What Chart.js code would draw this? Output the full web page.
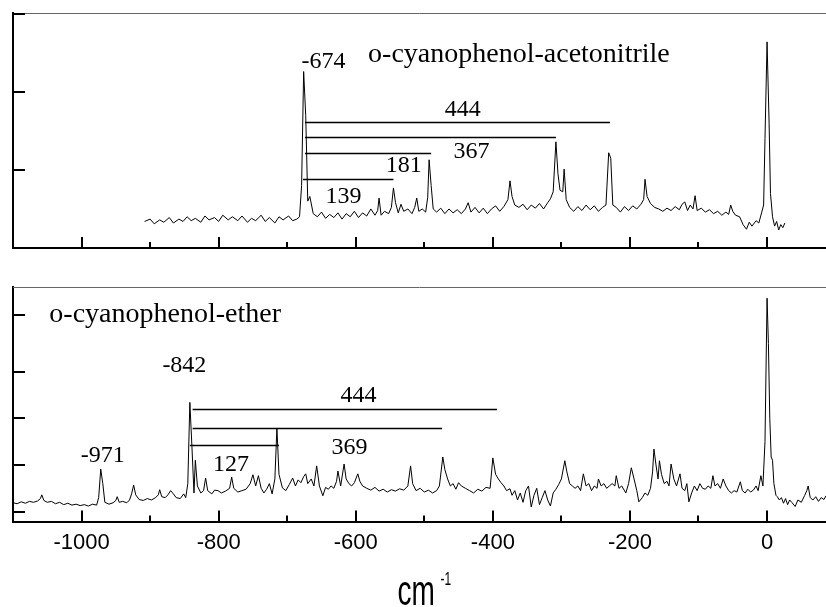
<!DOCTYPE html>
<html>
<head>
<meta charset="utf-8">
<script src="https://cdn.jsdelivr.net/npm/chart.js@4.4.1/dist/chart.umd.min.js"></script>
<style>
html, body { margin: 0; padding: 0; background: #fff; }
#top { position: absolute; left: 0; top: 0; width: 826px; height: 260px; }
#bottom { position: absolute; left: 0; top: 260px; width: 826px; height: 347px; }
</style>
</head>
<body>
<div id="top"><canvas id="topChart"></canvas></div>
<div id="bottom"><canvas id="bottomChart"></canvas></div>
<script>
// wavenumber shift (cm-1) and intensity, o-cyanophenol-acetonitrile
const accX = [-908,-900,-894,-886,-880,-872,-866,-858,-852,-846,
  -840,-834,-826,-820,-814,-806,-800,-794,-786,-780,
  -772,-766,-758,-752,-746,-738,-732,-726,-718,-712,
  -706,-698,-692,-686,-682,-679,-676,-673,-670,-667,
  -662,-656,-650,-644,-638,-632,-626,-620,-614,-608,
  -602,-596,-590,-584,-578,-572,-568,-566,-563,-558,
  -552,-548,-545,-542,-538,-534,-530,-524,-518,-514,
  -511,-508,-503,-498,-495,-493,-490,-487,-482,-476,
  -470,-464,-458,-452,-446,-440,-436,-432,-426,-420,
  -414,-408,-402,-396,-390,-384,-378,-375,-372,-368,
  -362,-356,-350,-344,-338,-332,-326,-320,-316,-312,
  -308,-305,-302,-298,-296,-293,-288,-282,-276,-270,
  -264,-258,-252,-246,-240,-235,-231,-228,-225,-220,
  -214,-208,-202,-196,-190,-184,-180,-178,-175,-170,
  -164,-158,-152,-146,-140,-134,-128,-124,-120,-116,
  -112,-108,-105,-102,-96,-90,-84,-78,-72,-66,
  -60,-56,-53,-50,-46,-40,-35,-30,-26,-22,
  -16,-12,-8,-5,-3,0,3,5,8,11,
  14,17,20,23,26];
const accY = [0.34,0.37,0.31,0.36,0.33,0.39,0.32,0.37,0.34,0.40,
  0.35,0.38,0.33,0.41,0.36,0.39,0.34,0.42,0.36,0.40,
  0.35,0.41,0.33,0.38,0.35,0.42,0.34,0.39,0.32,0.40,
  0.36,0.41,0.35,0.37,0.40,0.80,2.26,1.70,0.60,0.66,
  0.44,0.40,0.46,0.38,0.43,0.39,0.45,0.37,0.44,0.40,
  0.47,0.39,0.45,0.41,0.50,0.42,0.48,0.64,0.42,0.47,
  0.44,0.52,0.77,0.58,0.45,0.56,0.47,0.50,0.44,0.52,
  0.64,0.47,0.50,0.46,0.65,1.13,0.80,0.50,0.46,0.51,
  0.44,0.50,0.45,0.49,0.44,0.50,0.58,0.46,0.52,0.45,
  0.51,0.44,0.50,0.54,0.47,0.53,0.62,0.86,0.66,0.55,
  0.52,0.56,0.49,0.55,0.51,0.57,0.50,0.58,0.63,0.72,
  1.36,0.95,0.74,0.72,1.01,0.62,0.52,0.47,0.53,0.48,
  0.55,0.49,0.54,0.47,0.52,0.55,1.22,1.15,0.55,0.52,
  0.46,0.53,0.48,0.54,0.50,0.56,0.62,0.88,0.66,0.57,
  0.52,0.50,0.47,0.51,0.48,0.53,0.49,0.56,0.59,0.48,
  0.55,0.50,0.67,0.48,0.51,0.46,0.49,0.44,0.47,0.42,
  0.46,0.43,0.55,0.47,0.42,0.40,0.30,0.24,0.33,0.28,
  0.35,0.32,0.45,0.55,1.40,2.64,1.60,0.70,0.40,0.28,
  0.34,0.23,0.30,0.26,0.32];

// o-cyanophenol-ether
const etherX = [-1100,-1094,-1088,-1082,-1076,-1070,-1064,-1060,-1058,-1055,
  -1050,-1044,-1038,-1032,-1026,-1020,-1014,-1008,-1002,-996,
  -990,-984,-978,-975,-972,-969,-966,-960,-954,-950,
  -948,-945,-940,-934,-930,-927,-924,-921,-916,-910,
  -904,-898,-892,-888,-886,-883,-878,-874,-870,-866,
  -862,-856,-851,-848,-845,-842,-839,-836,-834,-831,
  -826,-822,-819,-816,-810,-806,-801,-796,-790,-784,
  -781,-778,-772,-766,-760,-754,-750,-746,-742,-738,
  -734,-730,-726,-722,-718,-715,-712,-707,-702,-697,
  -692,-688,-684,-680,-676,-673,-670,-665,-661,-657,
  -653,-648,-644,-640,-636,-632,-628,-626,-622,-617,
  -614,-610,-606,-602,-597,-594,-590,-584,-578,-572,
  -566,-560,-554,-548,-542,-536,-530,-524,-520,-517,
  -512,-506,-500,-494,-488,-482,-478,-473,-470,-466,
  -462,-458,-454,-450,-446,-440,-434,-428,-422,-416,
  -410,-404,-400,-396,-392,-388,-384,-380,-375,-372,
  -368,-364,-360,-356,-352,-348,-344,-340,-336,-332,
  -328,-324,-320,-316,-312,-308,-304,-300,-295,-292,
  -288,-284,-280,-276,-272,-268,-264,-260,-256,-252,
  -248,-246,-242,-238,-234,-230,-226,-222,-220,-216,
  -212,-206,-202,-198,-194,-190,-187,-182,-178,-174,
  -170,-167,-165,-162,-159,-157,-154,-150,-146,-143,
  -140,-136,-132,-127,-124,-120,-117,-114,-110,-106,
  -102,-98,-94,-90,-86,-82,-79,-76,-72,-68,
  -64,-60,-56,-52,-48,-44,-39,-36,-32,-28,
  -24,-20,-16,-13,-9,-6,-3,0,2,4,
  6,8,10,13,15,18,21,24,27,30,
  33,36,41,45,50,55,58,60,63,67,
  71,75,79,83,86];
const etherY = [0.19,0.17,0.21,0.18,0.22,0.20,0.23,0.28,0.36,0.24,
  0.20,0.22,0.17,0.20,0.15,0.18,0.14,0.16,0.13,0.15,
  0.12,0.16,0.14,0.30,0.91,0.60,0.20,0.16,0.19,0.24,
  0.32,0.20,0.22,0.19,0.25,0.38,0.57,0.36,0.26,0.24,
  0.28,0.25,0.30,0.36,0.47,0.32,0.30,0.36,0.45,0.38,
  0.30,0.28,0.38,0.30,0.60,2.34,1.40,0.40,1.10,0.55,
  0.40,0.45,0.72,0.45,0.38,0.46,0.45,0.40,0.44,0.50,
  0.74,0.50,0.42,0.45,0.48,0.60,0.79,0.55,0.77,0.50,
  0.40,0.48,0.60,0.38,0.70,1.79,0.80,0.51,0.45,0.58,
  0.72,0.55,0.68,0.62,0.75,0.81,0.60,0.70,0.55,0.98,
  0.55,0.34,0.52,0.48,0.55,0.50,0.65,0.87,0.55,1.02,
  0.70,0.60,0.55,0.62,0.81,0.65,0.55,0.50,0.46,0.52,
  0.44,0.48,0.42,0.47,0.44,0.49,0.46,0.55,0.98,0.60,
  0.45,0.50,0.42,0.46,0.40,0.45,0.55,1.17,0.90,0.70,
  0.55,0.60,0.48,0.62,0.55,0.50,0.45,0.40,0.48,0.44,
  0.52,0.50,1.15,0.80,0.70,0.62,0.55,0.45,0.49,0.35,
  0.45,0.25,0.40,0.20,0.45,0.55,0.10,0.35,0.50,0.15,
  0.30,0.45,0.25,0.12,0.40,0.48,0.58,0.70,1.09,0.85,
  0.60,0.55,0.50,0.55,0.45,0.81,0.55,0.60,0.45,0.55,
  0.50,0.70,0.55,0.60,0.50,0.55,0.60,0.55,0.77,0.50,
  0.55,0.40,0.60,0.94,0.70,0.45,0.21,0.30,0.40,0.35,
  0.50,0.85,1.34,1.00,0.70,1.09,0.80,0.60,0.65,0.55,
  1.02,0.70,0.55,0.81,0.50,0.45,0.60,0.21,0.40,0.55,
  0.45,0.60,0.50,0.48,0.55,0.50,0.77,0.55,0.60,0.50,
  0.70,0.55,0.45,0.40,0.45,0.42,0.64,0.45,0.40,0.48,
  0.42,0.46,0.55,0.45,0.77,0.55,1.50,4.57,3.60,2.00,
  1.17,1.10,0.60,0.35,0.32,0.25,0.30,0.18,0.28,0.15,
  0.25,0.20,0.11,0.25,0.20,0.35,0.45,0.55,0.30,0.25,
  0.32,0.22,0.30,0.26,0.34];

// axis ticks
const xTickLabels = [-1000, -800, -600, -400, -200, 0];
const xMinorTicks = [-900, -700, -500, -300, -100];
const topYTicks = [1, 2, 3];
const bottomYTicks = [0, 1, 2, 3, 4.2];

// annotation brackets: [from, to, height]
const accBrackets = [[-674, -229, 1.615], [-674, -308, 1.42], [-674, -490, 1.22], [-677, -545, 0.885]];
const etherBrackets = [[-838, -394, 2.19], [-838, -474, 1.79], [-842, -712, 1.43]];
// annotation labels: [text, x, y]
const accLabels = [['-674', -647, 2.31], ['444', -444, 1.69], ['367', -431, 1.15], ['181', -530, 0.97], ['139', -618, 0.58]];
const etherLabels = [['-842', -850, 3.0], ['-971', -969, 1.06], ['127', -782, 0.87], ['444', -596, 2.34], ['369', -609, 1.23]];

function toPoints(xs, ys) {
  return xs.map((v, i) => ({ x: v, y: ys[i] }));
}

function makeDecor(cfg) {
  return {
    id: 'decor',
    afterDraw(chart) {
      const ctx = chart.ctx;
      const xs = chart.scales.x, ys = chart.scales.y;
      const a = chart.chartArea;
      ctx.save();
      // thin top frame
      ctx.strokeStyle = '#666';
      ctx.lineWidth = 1;
      ctx.beginPath();
      ctx.moveTo(a.left, a.top + 0.5);
      ctx.lineTo(a.right, a.top + 0.5);
      ctx.stroke();

      // inward ticks
      ctx.strokeStyle = '#000';
      ctx.lineWidth = 2;
      ctx.beginPath();
      xTickLabels.forEach(v => {
        const px = Math.round(xs.getPixelForValue(v));
        ctx.moveTo(px, a.bottom);
        ctx.lineTo(px, a.bottom - 11);
      });
      xMinorTicks.forEach(v => {
        const px = Math.round(xs.getPixelForValue(v));
        ctx.moveTo(px, a.bottom);
        ctx.lineTo(px, a.bottom - 6);
      });
      cfg.yTicks.forEach(v => {
        const py = Math.round(ys.getPixelForValue(v));
        ctx.moveTo(a.left, py);
        ctx.lineTo(a.left + 12, py);
      });
      ctx.stroke();

      // brackets
      ctx.lineWidth = 1.5;
      ctx.beginPath();
      cfg.brackets.forEach(b => {
        const py = Math.round(ys.getPixelForValue(b[2])) + 0.5;
        ctx.moveTo(xs.getPixelForValue(b[0]), py);
        ctx.lineTo(xs.getPixelForValue(b[1]), py);
      });
      ctx.stroke();

      // labels
      ctx.fillStyle = '#000';
      ctx.font = '24px "Liberation Serif", "Times New Roman", serif';
      ctx.textAlign = 'center';
      ctx.textBaseline = 'alphabetic';
      cfg.labels.forEach(l => {
        ctx.fillText(l[0], xs.getPixelForValue(l[1]), ys.getPixelForValue(l[2]));
      });
      ctx.font = '28px "Liberation Serif", "Times New Roman", serif';
      ctx.textAlign = 'left';
      ctx.fillText(cfg.title[0], xs.getPixelForValue(cfg.title[1]), ys.getPixelForValue(cfg.title[2]));

      // axis title cm-1, tall narrow lettering
      if (cfg.axisTitle) {
        const cx = (a.left + a.right) / 2 - 22;
        const base = chart.height - 2;
        ctx.save();
        ctx.translate(cx, base);
        ctx.scale(1, 1.55);
        ctx.font = '28px "Liberation Sans", Arial, sans-serif';
        ctx.fillText('cm', 0, 0);
        ctx.restore();
        ctx.save();
        ctx.translate(cx + 43, base - 20);
        ctx.scale(1, 1.5);
        ctx.font = '12px "Liberation Sans", Arial, sans-serif';
        ctx.fillText('-1', 0, 0);
        ctx.restore();
      }
      ctx.restore();
    }
  };
}

function makeChart(canvasId, points, cfg) {
  return new Chart(document.getElementById(canvasId), {
    type: 'line',
    data: {
      datasets: [{
        data: points,
        borderColor: '#000',
        borderWidth: 1,
        pointRadius: 0,
        tension: 0,
        fill: false
      }]
    },
    options: {
      responsive: true,
      maintainAspectRatio: false,
      animation: false,
      layout: { padding: cfg.padding },
      plugins: { legend: { display: false }, tooltip: { enabled: false } },
      scales: {
        x: {
          type: 'linear',
          min: -1100,
          max: 86,
          afterBuildTicks: s => { s.ticks = xTickLabels.map(v => ({ value: v })); },
          ticks: {
            display: cfg.showXLabels,
            callback: v => String(v),
            color: '#000',
            padding: 8,
            maxRotation: 0,
            font: { family: '"Liberation Sans", Arial, sans-serif', size: 22 }
          },
          grid: { display: false, drawTicks: false },
          border: { display: true, color: '#000', width: 2 }
        },
        y: {
          min: cfg.yMin,
          max: cfg.yMax,
          ticks: { display: false },
          grid: { display: false, drawTicks: false },
          border: { display: true, color: '#000', width: 2 }
        }
      }
    },
    plugins: [makeDecor(cfg)]
  });
}

makeChart('topChart', toPoints(accX, accY), {
  padding: { left: 13, top: 13, right: 0, bottom: 12 },
  showXLabels: false,
  yMin: 0, yMax: 3.01,
  yTicks: topYTicks,
  brackets: accBrackets,
  labels: accLabels,
  title: ['o-cyanophenol-acetonitrile', -582, 2.38]
});

makeChart('bottomChart', toPoints(etherX, etherY), {
  padding: { left: 13, top: 27, right: 0, bottom: 43 },
  showXLabels: true,
  yMin: -0.213, yMax: 4.81,
  yTicks: bottomYTicks,
  brackets: etherBrackets,
  labels: etherLabels,
  title: ['o-cyanophenol-ether', -1047, 4.06],
  axisTitle: true
});
</script>
</body>
</html>
